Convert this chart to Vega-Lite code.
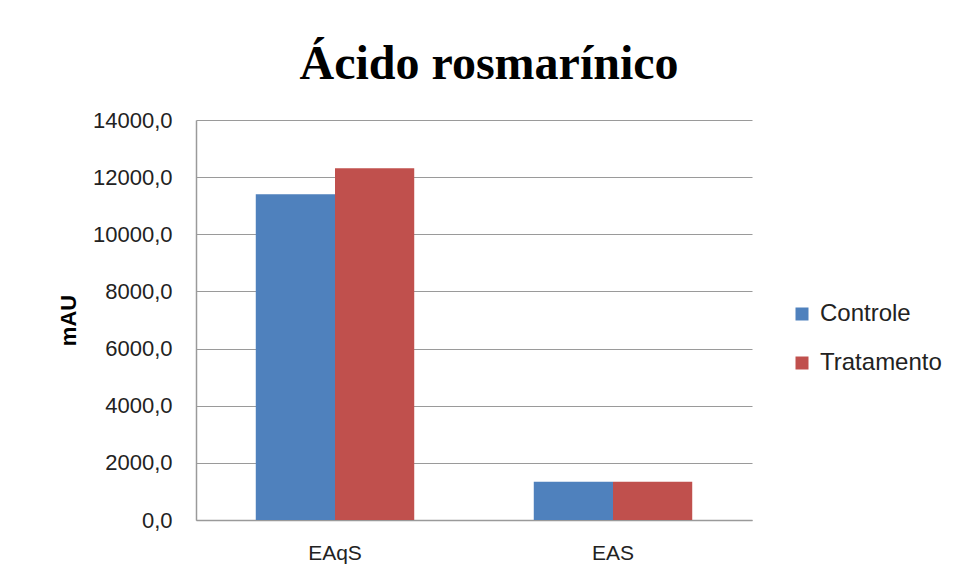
{
  "$schema": "https://vega.github.io/schema/vega-lite/v6.json",
  "width": 556,
  "height": 400,
  "autosize": {"type": "none"},
  "padding": {"left": 196, "top": 120, "right": 209, "bottom": 60},
  "background": "white",
  "title": {
    "text": "Ácido rosmarínico",
    "font": "Liberation Serif",
    "fontSize": 48,
    "fontWeight": "bold",
    "color": "black",
    "anchor": "middle",
    "frame": "group",
    "dx": 15,
    "dy": 40,
    "baseline": "alphabetic",
    "offset": 22
  },
  "data": {
    "values": [
      {"extrato": "EAqS", "grupo": "Controle", "mAU": 11400},
      {"extrato": "EAqS", "grupo": "Tratamento", "mAU": 12310},
      {"extrato": "EAS", "grupo": "Controle", "mAU": 1340},
      {"extrato": "EAS", "grupo": "Tratamento", "mAU": 1340}
    ]
  },
  "mark": {"type": "bar"},
  "encoding": {
    "x": {
      "field": "extrato",
      "type": "nominal",
      "sort": ["EAqS", "EAS"],
      "scale": {"paddingInner": 0.43, "paddingOuter": 0.215},
      "axis": {
        "title": null,
        "labelAngle": 0,
        "labelFont": "Liberation Sans",
        "labelFontSize": 21,
        "labelColor": "#222222",
        "labelPadding": 22,
        "ticks": false,
        "domainColor": "#9a9a9a",
        "domainWidth": 1.5,
        "grid": false
      }
    },
    "xOffset": {
      "field": "grupo",
      "type": "nominal",
      "sort": ["Controle", "Tratamento"],
      "scale": {"paddingInner": 0, "paddingOuter": 0}
    },
    "y": {
      "field": "mAU",
      "type": "quantitative",
      "scale": {"domain": [0, 14000], "nice": false},
      "axis": {
        "title": "mAU",
        "titleFont": "Liberation Sans",
        "titleFontSize": 22,
        "titleFontWeight": "bold",
        "titleColor": "black",
        "titlePadding": 12,
        "values": [0, 2000, 4000, 6000, 8000, 10000, 12000, 14000],
        "labelExpr": "replace(format(datum.value, '.1f'), '.', ',')",
        "labelFont": "Liberation Sans",
        "labelFontSize": 22,
        "labelColor": "#222222",
        "labelPadding": 24,
        "ticks": false,
        "domainColor": "#9a9a9a",
        "domainWidth": 1.5,
        "gridColor": "#9a9a9a",
        "gridWidth": 1.2
      }
    },
    "color": {
      "field": "grupo",
      "type": "nominal",
      "sort": ["Controle", "Tratamento"],
      "scale": {"domain": ["Controle", "Tratamento"], "range": ["#4F81BD", "#C0504D"]},
      "legend": {
        "title": null,
        "orient": "none",
        "legendX": 594,
        "legendY": 182,
        "symbolType": "square",
        "symbolSize": 169,
        "symbolStrokeWidth": 0,
        "labelFont": "Liberation Sans",
        "labelFontSize": 24,
        "labelColor": "#222222",
        "labelOffset": 6,
        "rowPadding": 25
      }
    }
  },
  "config": {
    "view": {"stroke": null}
  }
}
